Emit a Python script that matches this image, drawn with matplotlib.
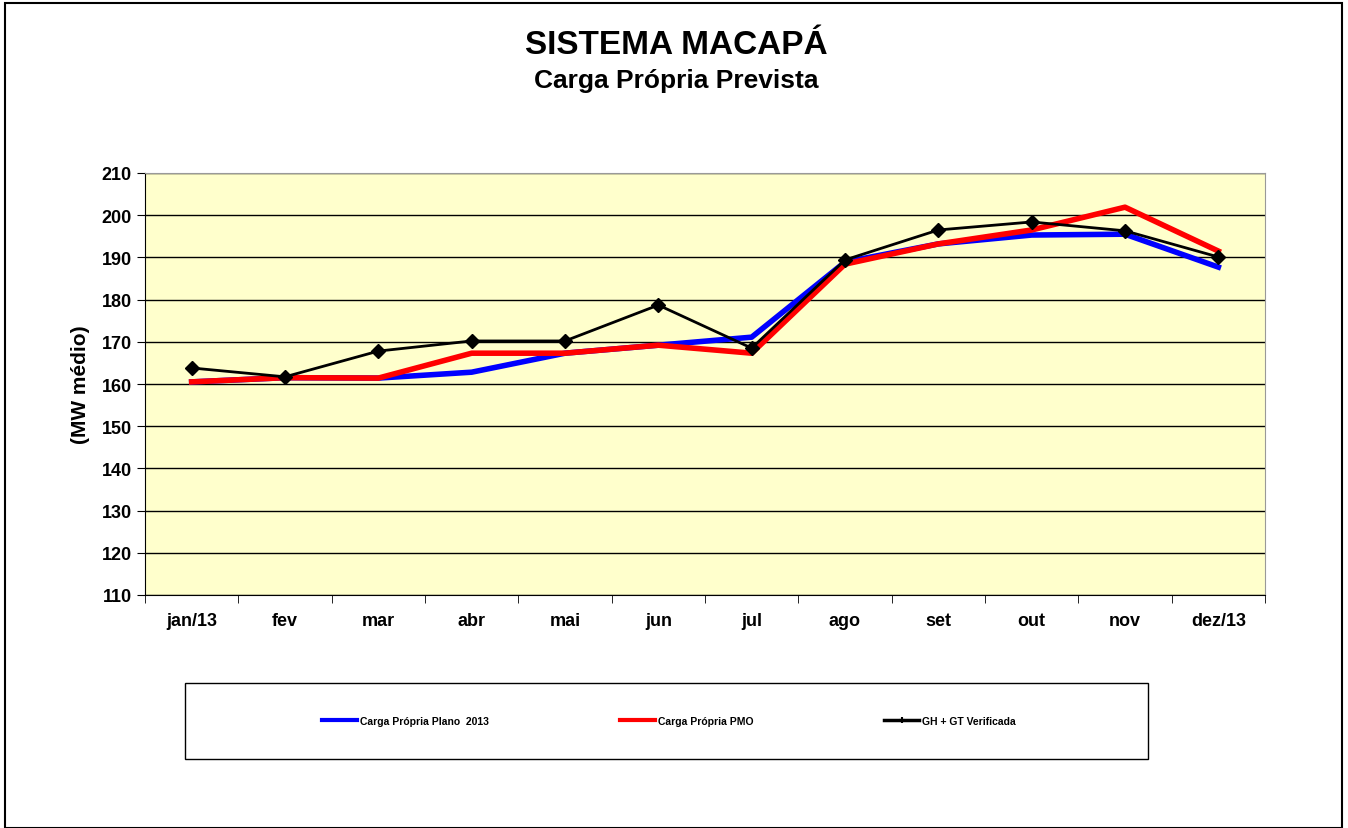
import matplotlib.pyplot as plt
from matplotlib.patches import Rectangle
from matplotlib.lines import Line2D

plt.rcParams['font.family'] = ['Liberation Sans', 'DejaVu Sans']
plt.rcParams['font.weight'] = 'bold'

months = ['jan/13', 'fev', 'mar', 'abr', 'mai', 'jun', 'jul', 'ago', 'set', 'out', 'nov', 'dez/13']
plano_2013 = [160.5, 161.5, 161.4, 162.8, 167.3, 169.2, 171.1, 188.9, 193.2, 195.3, 195.5, 187.7]
pmo = [160.5, 161.5, 161.4, 167.3, 167.3, 169.2, 167.3, 188.4, 193.2, 196.5, 201.9, 191.5]
verificada = [163.8, 161.7, 167.8, 170.2, 170.2, 178.7, 168.5, 189.4, 196.5, 198.4, 196.3, 190.1]
y_ticks = list(range(110, 211, 10))
labels = ['Carga Própria Plano  2013', 'Carga Própria PMO', 'GH + GT Verificada']

W, H = 1348, 829
fig = plt.figure(figsize=(W / 100, H / 100), dpi=100)

# outer frame
fig.patches.append(Rectangle((5 / W, 0), 1337 / W, 1 - 4 / H, transform=fig.transFigure,
                             fill=False, edgecolor='black', linewidth=1.5))

ax = fig.add_axes([145 / W, 1 - 596 / H, 1120 / W, 422 / H])
ax.set_facecolor('#ffffcc')

x = list(range(len(months)))
ax.plot(x, plano_2013, color='#0000ff', linewidth=4, zorder=3)
ax.plot(x, pmo, color='#ff0000', linewidth=4, zorder=4)
ax.plot(x, verificada, color='black', linewidth=2, marker='D', markersize=7, zorder=5)

ax.set_xlim(-0.5, len(months) - 0.5)
ax.set_ylim(110, 210)
ax.set_yticks(y_ticks)
ax.yaxis.grid(True, color='black', linewidth=1)
ax.set_axisbelow(True)
ax.set_xticks(x)
ax.set_xticklabels(months, fontsize=13, fontweight='bold')
ax.set_xticks([i - 0.5 for i in range(len(months) + 1)], minor=True)
ax.tick_params(axis='x', which='major', length=0, pad=12)
ax.tick_params(axis='x', which='minor', length=6, direction='out', color='black')
ax.tick_params(axis='y', labelsize=13, length=6, color='black')
for lbl in ax.get_yticklabels():
    lbl.set_fontweight('bold')
ax.set_ylabel('(MW médio)', fontsize=15, fontweight='bold', labelpad=8)

for side in ['top', 'right']:
    ax.spines[side].set_color('#999999')
ax.spines['left'].set_color('black')
ax.spines['bottom'].set_color('black')

fig.text(676 / W, 1 - 46 / H, 'SISTEMA MACAPÁ', ha='center', va='center', fontsize=24, fontweight='bold')
fig.text(676 / W, 1 - 81 / H, 'Carga Própria Prevista', ha='center', va='center', fontsize=19, fontweight='bold')

# legend box
fig.patches.append(Rectangle((185 / W, 1 - 760 / H), 963 / W, 76 / H, transform=fig.transFigure,
                             fill=False, edgecolor='black', linewidth=1))
handles = [Line2D([], [], color='#0000ff', linewidth=3),
           Line2D([], [], color='#ff0000', linewidth=3),
           Line2D([], [], color='black', linewidth=2.5, marker='+', markersize=5, markeredgewidth=1.5)]
fig.legend(handles, labels, loc='center', bbox_to_anchor=(669 / W, 1 - 722 / H), ncol=3, frameon=False,
           handlelength=3.4, handletextpad=0.3, columnspacing=12.5,
           prop={'weight': 'bold', 'size': 7.5})

fig.savefig('out.png', dpi=100)
plt.close(fig)
